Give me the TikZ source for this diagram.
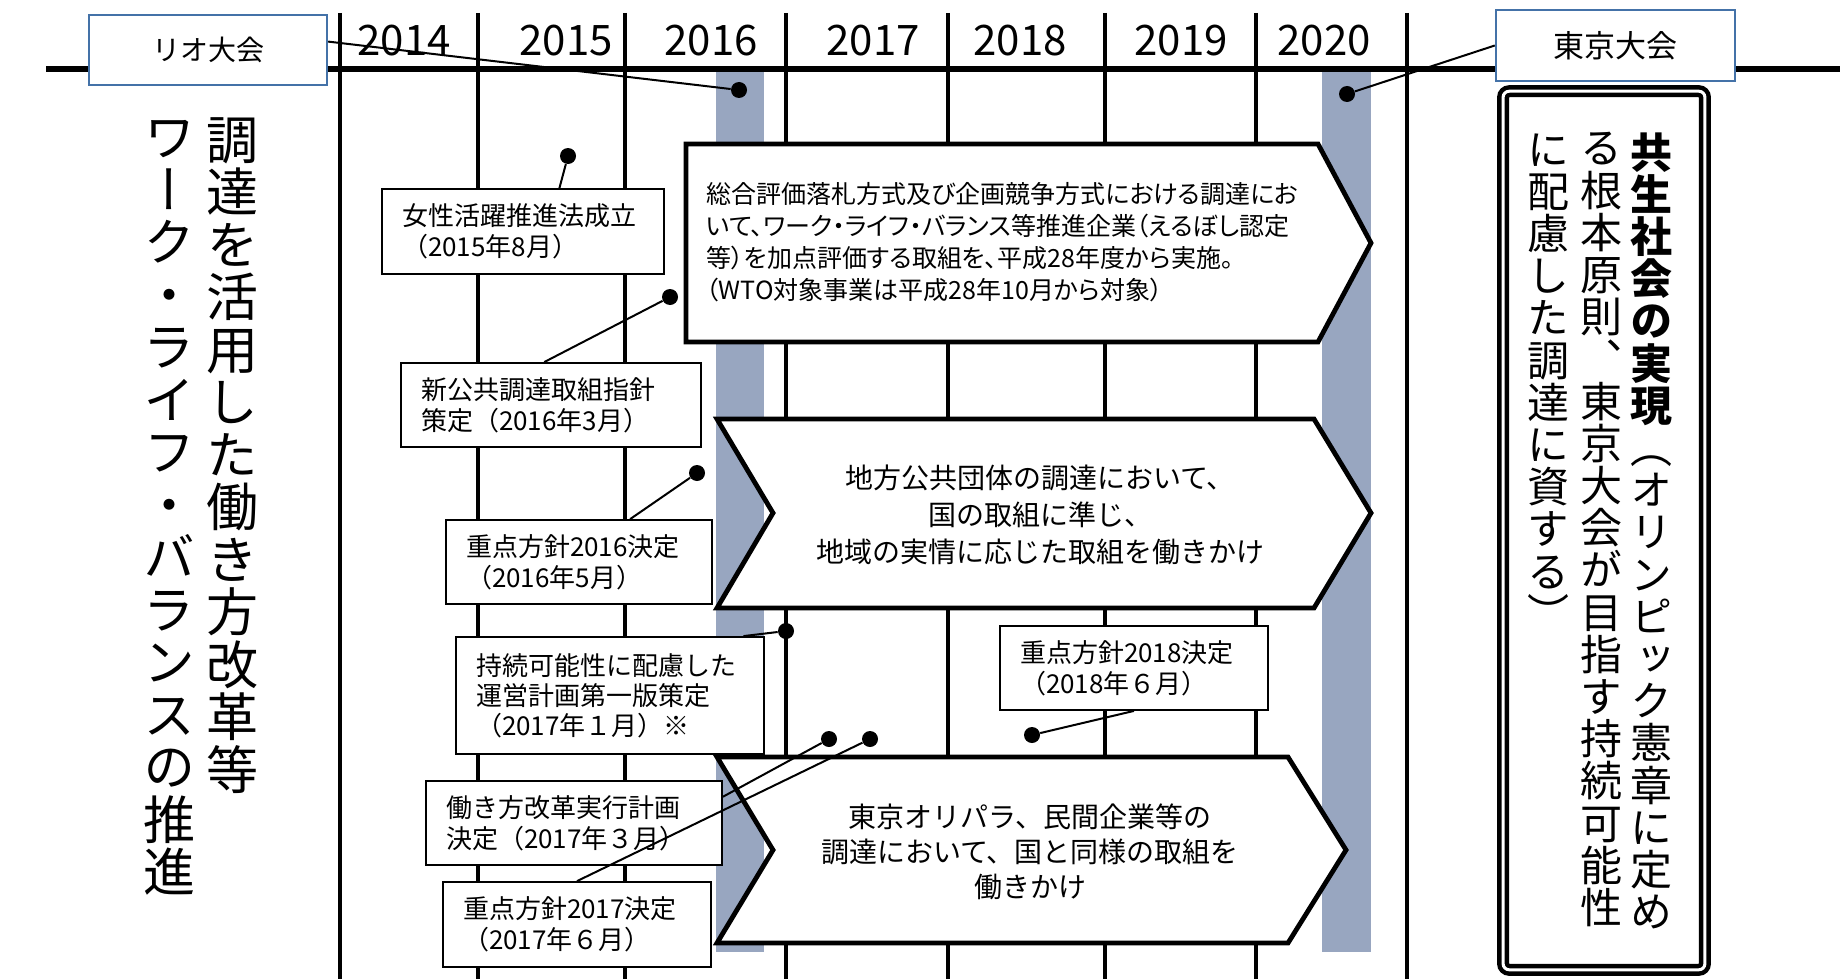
\documentclass[tikz,border=0pt]{standalone}
\usepackage{fontspec}
\setmainfont{Noto Sans CJK JP}
\newfontfamily\tatefont[RawFeature=+vert]{Noto Sans CJK JP}
\newfontfamily\propfont[RawFeature=+palt]{Noto Sans CJK JP}
\definecolor{barblue}{RGB}{152,166,192}
\definecolor{frameblue}{RGB}{68,114,168}

\begin{document}
\begin{tikzpicture}[x=0.5pt, y=-0.5pt,
    evbox/.style={draw, fill=white, line width=0.9pt, align=left, inner xsep=10pt, inner ysep=0pt, font=\fontsize{13pt}{15.5pt}\selectfont},
    game/.style={draw=frameblue, fill=white, line width=1.2pt, minimum width=119pt, minimum height=35pt},
    chev/.style={draw, fill=white, line width=2.4pt},
    lead/.style={line width=1pt},
    dot/.style={circle, fill, inner sep=0pt, minimum size=8pt},
    tate/.style={align=center, inner sep=0pt, anchor=north}]
    \useasboundingbox (0,0) rectangle (1840,979);
    \fill[white] (0,0) rectangle (1840,979);

    \fill[barblue] (716,68) rectangle (764,952);
    \fill[barblue] (1322,68) rectangle (1371,952);
    \foreach \x in {340,478,625,786,948,1105,1256,1407}
        \draw[line width=2.2pt] (\x,13) -- (\x,979);
    \draw[line width=2.6pt] (46,69) -- (1840,69);
    \foreach \x/\yr in {404/2014,566/2015,711/2016,873/2017,1020/2018,1181/2019,1324/2020}
        \node[font=\fontsize{21pt}{25pt}\selectfont] (y\yr) at (\x,41) {\yr};

    \draw[chev] (686,144) -- (1318,144) -- (1371,243) -- (1318,342) -- (686,342) -- cycle;
    \draw[chev] (717,419) -- (1314,419) -- (1371,513) -- (1314,608) -- (717,608) -- (773,513) -- cycle;
    \draw[chev] (717,757) -- (1288,757) -- (1346,850) -- (1288,943) -- (717,943) -- (773,850) -- cycle;
    \node[align=left, anchor=west, inner sep=0pt, font=\propfont\fontsize{12.5pt}{16pt}\selectfont] (sogo) at (706,242)
        {総合評価落札方式及び企画競争方式における調達にお\\いて、ワーク・ライフ・バランス等推進企業（えるぼし認定\\等）を加点評価する取組を、平成28年度から実施。\\（WTO対象事業は平成28年10月から対象）};
    \node[align=center, inner sep=0pt, font=\fontsize{14pt}{18.5pt}\selectfont] (chiho) at (1040,515)
        {地方公共団体の調達において、\\国の取組に準じ、\\地域の実情に応じた取組を働きかけ};
    \node[align=center, inner sep=0pt, font=\fontsize{14pt}{17.5pt}\selectfont] (minkan) at (1030,852)
        {東京オリパラ、民間企業等の\\調達において、国と同様の取組を\\働きかけ};

    \node[evbox, minimum width=141pt, minimum height=42.5pt, text width=121pt] (wise) at (523,231.5) {女性活躍推進法成立\\（2015年8月）};
    \node[evbox, minimum width=150pt, minimum height=42pt, text width=130pt] (shishin) at (551,405) {新公共調達取組指針\\策定（2016年3月）};
    \node[evbox, minimum width=133pt, minimum height=42pt, text width=113pt] (juten16) at (579,562) {重点方針2016決定\\（2016年5月）};
    \node[evbox, minimum width=154pt, minimum height=58.5pt, text width=134pt, font=\fontsize{13pt}{15pt}\selectfont] (unei) at (610,695.5) {持続可能性に配慮した\\運営計画第一版策定\\（2017年１月）※};
    \node[evbox, minimum width=148pt, minimum height=42pt, text width=128pt] (kaikaku) at (574,823) {働き方改革実行計画\\決定（2017年３月）};
    \node[evbox, minimum width=134pt, minimum height=42.5pt, text width=114pt] (juten17) at (577,924.5) {重点方針2017決定\\（2017年６月）};
    \node[evbox, minimum width=134pt, minimum height=42pt, text width=114pt] (juten18) at (1134,668) {重点方針2018決定\\（2018年６月）};

    \node[game, font=\fontsize{14pt}{16pt}\selectfont] (rio) at (208,50) {リオ大会};
    \node[game, minimum width=119.5pt, minimum height=35.5pt, font=\fontsize{15.5pt}{18pt}\selectfont] (tokyo) at (1615.5,45.5) {東京大会};

    \node[draw, double, line width=2.25pt, double distance=1.5pt, rounded corners=3pt, minimum width=100.9pt, minimum height=439.25pt, inner sep=0pt] (goal) at (1604,530.5) {};
    \node[tate, font=\tatefont\fontsize{21pt}{21.1pt}\selectfont] (goal1) at (1651,132)
        {\textbf{共}\\\textbf{生}\\\textbf{社}\\\textbf{会}\\\textbf{の}\\\textbf{実}\\\textbf{現}\\（\\オ\\リ\\ン\\ピ\\ッ\\ク\\憲\\章\\に\\定\\め};
    \node[tate, font=\tatefont\fontsize{21pt}{21.1pt}\selectfont] (goal2) at (1601,132)
        {る\\根\\本\\原\\則\\、\\東\\京\\大\\会\\が\\目\\指\\す\\持\\続\\可\\能\\性};
    \node[tate, font=\tatefont\fontsize{21pt}{21.1pt}\selectfont] (goal3) at (1548.5,133)
        {に\\配\\慮\\し\\た\\調\\達\\に\\資\\す\\る\\）};

    \node[tate, font=\tatefont\fontsize{26pt}{26.25pt}\selectfont] (reform) at (232,117)
        {調\\達\\を\\活\\用\\し\\た\\働\\き\\方\\改\\革\\等};
    \node[tate, font=\tatefont\fontsize{26pt}{26.25pt}\selectfont] (wlb) at (169,120)
        {ワ\\ー\\ク\\・\\ラ\\イ\\フ\\・\\バ\\ラ\\ン\\ス\\の\\推\\進};

    \node[dot] (drio) at (739,90) {};
    \node[dot] (dtokyo) at (1347,94) {};
    \node[dot] (dwise) at (568,156) {};
    \node[dot] (dshishin) at (670,297) {};
    \node[dot] (djuten16) at (697,473) {};
    \node[dot] (dunei) at (786,631) {};
    \node[dot] (dkaikaku) at (829,739) {};
    \node[dot] (djuten17) at (870,739) {};
    \node[dot] (djuten18) at (1032,735) {};

    \draw[lead] (rio.4) -- (drio);
    \draw[lead] (tokyo.west) -- (dtokyo);
    \draw[lead] (wise.50) -- (dwise);
    \draw[lead] (shishin.99) -- (dshishin);
    \draw[lead] (juten16.40) -- (djuten16);
    \draw[lead] (unei.24) -- (dunei);
    \draw[lead] (kaikaku.10) -- (dkaikaku);
    \draw[lead] (juten17.north) -- (djuten17);
    \draw[lead] (juten18.south) -- (djuten18);
\end{tikzpicture}
\end{document}
